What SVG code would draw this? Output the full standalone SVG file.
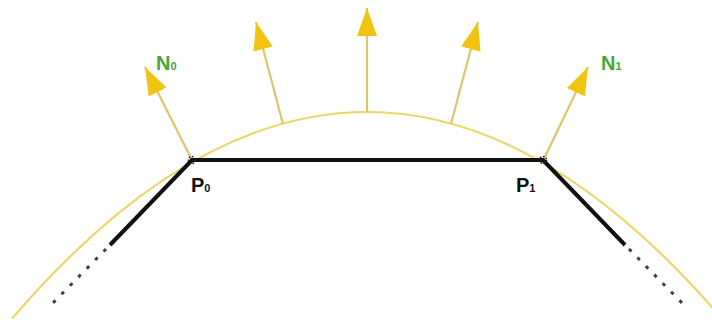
<svg xmlns="http://www.w3.org/2000/svg" width="712" height="325" viewBox="0 0 712 325">
<style>
.curve{fill:none;stroke:#ecd66a;stroke-width:2.2}
.shaft{fill:none;stroke:#dcc66a;stroke-width:2.2;marker-end:url(#head)}
.seg{fill:none;stroke:#111;stroke-width:4;stroke-linecap:butt}
.dots{fill:none;stroke:#3a3f55;stroke-width:3;stroke-dasharray:3.5 8.5}
.pt{fill:none;stroke:#222;stroke-width:1.6;stroke-dasharray:1.6 1.6}
.nl{font-family:"Liberation Sans",Arial,sans-serif;font-weight:bold;fill:#44a832}
.pl{font-family:"Liberation Sans",Arial,sans-serif;font-weight:bold;fill:#111}
</style>
<defs>
<marker id="head" markerUnits="userSpaceOnUse" markerWidth="30" markerHeight="22" refX="28" refY="10" orient="auto" viewBox="0 0 30 20">
<path d="M0,0 L28,10 L0,20 Z" fill="#f2c412"/>
</marker>
</defs>
<rect width="712" height="325" fill="#ffffff"/>
<g id="curve">
<path class="curve" d="M12,318.6 Q367,-94.6 722,318.6"/>
</g>
<g id="connectors">
<line class="shaft" x1="192" y1="160" x2="145" y2="67"/>
<line class="shaft" x1="283" y1="124" x2="256" y2="22"/>
<line class="shaft" x1="367" y1="112" x2="367" y2="8"/>
<line class="shaft" x1="451" y1="124" x2="478" y2="22"/>
<line class="shaft" x1="543" y1="161" x2="588" y2="67"/>
<path class="seg" d="M110,245 L192,160 L543,160 L625,245"/>
<line class="dots" x1="106" y1="249" x2="48" y2="308"/>
<line class="dots" x1="629" y1="249" x2="687" y2="308"/>
</g>
<g id="P0">
<circle class="pt" cx="192" cy="160" r="3.5"/>
<text class="pl" x="191" y="192" font-size="20">P<tspan font-size="11">0</tspan></text>
</g>
<g id="P1">
<circle class="pt" cx="543" cy="160" r="3.5"/>
<text class="pl" x="516" y="192" font-size="20">P<tspan font-size="11">1</tspan></text>
</g>
<g id="N0">
<text class="nl" x="156" y="70" font-size="20">N<tspan font-size="11">0</tspan></text>
</g>
<g id="N1">
<text class="nl" x="601" y="70" font-size="20">N<tspan font-size="11">1</tspan></text>
</g>
</svg>
